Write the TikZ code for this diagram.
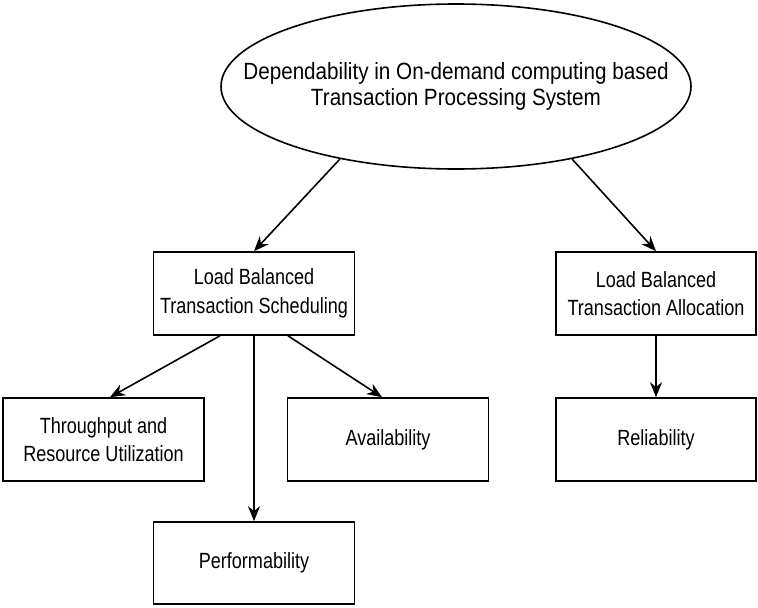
\documentclass[tikz,border=0pt]{standalone}
\usepackage{fontspec}
\setmainfont{Liberation Sans}[FakeStretch=0.82]
\newfontfamily\rootfont{Liberation Sans}[FakeStretch=0.88]
\usetikzlibrary{arrows.meta, shapes.geometric}

\begin{document}
\begin{tikzpicture}[
    x=1pt, y=-1pt,
    line width=1.6pt,
    box/.style={draw, minimum width=201pt, minimum height=83pt, align=center, inner sep=2pt,
                font=\fontsize{22}{28.5}\selectfont},
    goal/.style={draw, ellipse, minimum width=470pt, minimum height=165pt, inner sep=0pt},
    arr/.style={-{Stealth[length=15pt, width=12pt]}, line width=1.6pt},
]
\useasboundingbox (0,0) rectangle (758,608);

% ============ root ============
\node[goal, label={[align=center, font=\rootfont\fontsize{23.5}{26}\selectfont]center:Dependability in On-demand computing based\\Transaction Processing System}] (top) at (456,86.5) {};

% ============ second level ============
\node[box] (sched) at (254,293.5) {Load Balanced\\Transaction Scheduling};
\node[box, minimum width=200pt] (alloc) at (656,293.5) {Load Balanced\\Transaction Allocation};
\draw[arr] (top.212) -- (sched.north);
\draw[arr] (top.328) -- (alloc.north);

% ============ leaves ============
\node[box] (thru)  at (103.5,439.5) {Throughput and\\Resource Utilization};
\node[box] (avail) at (388,439.5)   {Availability};
\node[box, minimum width=200pt] (reli) at (656,439.5) {Reliability};
\node[box, minimum height=82pt] (perf) at (254,563) {Performability};

\draw[arr] ([xshift=-34pt]sched.south) -- ([xshift=6.5pt]thru.north);
\draw[arr] (sched.south) -- (perf.north);
\draw[arr] ([xshift=34pt]sched.south) -- ([xshift=-6pt]avail.north);
\draw[arr] (alloc.south) -- (reli.north);

\end{tikzpicture}
\end{document}
